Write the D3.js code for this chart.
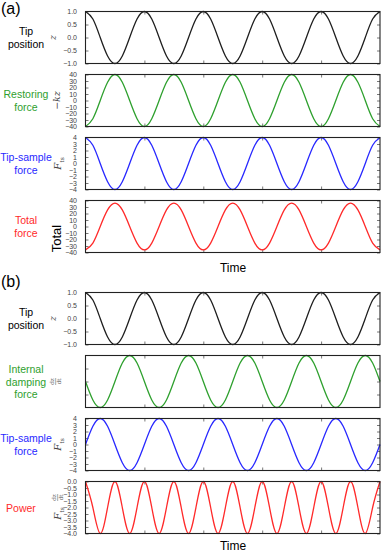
<!DOCTYPE html>
<html>
<head>
<meta charset="utf-8">
<script src="https://cdn.jsdelivr.net/npm/d3@7"></script>
<style>
body { margin: 0; background: #fff; }
svg { display: block; font-family: "Liberation Sans", Arial, sans-serif; }
</style>
</head>
<body>
<svg id="chart" width="382" height="554"></svg>
<script>
// time in units of oscillation periods, sampled every 1/8 period
var timeSteps = d3.range(0, 41).map(function (i) { return i / 8; });
var timeTicks = [1, 2, 3, 4];

// (a)
var tipPosition = [1, .71, 0, -.71, -1, -.71, 0, .71, 1, .71, 0, -.71, -1, -.71, 0, .71, 1, .71, 0, -.71, -1, -.71, 0, .71,
    1, .71, 0, -.71, -1, -.71, 0, .71, 1, .71, 0, -.71, -1, -.71, 0, .71, 1];
var restoringForce = [-40, -28, 0, 28, 40, 28, 0, -28, -40, -28, 0, 28, 40, 28, 0, -28, -40, -28, 0, 28, 40, 28, 0, -28,
    -40, -28, 0, 28, 40, 28, 0, -28, -40, -28, 0, 28, 40, 28, 0, -28, -40];
var tipSampleForceA = [4, 2.8, 0, -2.8, -4, -2.8, 0, 2.8, 4, 2.8, 0, -2.8, -4, -2.8, 0, 2.8, 4, 2.8, 0, -2.8, -4, -2.8, 0, 2.8,
    4, 2.8, 0, -2.8, -4, -2.8, 0, 2.8, 4, 2.8, 0, -2.8, -4, -2.8, 0, 2.8, 4];
var totalForce = [-36, -25.5, 0, 25.5, 36, 25.5, 0, -25.5, -36, -25.5, 0, 25.5, 36, 25.5, 0, -25.5, -36, -25.5, 0, 25.5, 36, 25.5, 0, -25.5,
    -36, -25.5, 0, 25.5, 36, 25.5, 0, -25.5, -36, -25.5, 0, 25.5, 36, 25.5, 0, -25.5, -36];

// (b)
var dampingForce = [0, -.71, -1, -.71, 0, .71, 1, .71, 0, -.71, -1, -.71, 0, .71, 1, .71, 0, -.71, -1, -.71, 0, .71, 1, .71,
    0, -.71, -1, -.71, 0, .71, 1, .71, 0, -.71, -1, -.71, 0, .71, 1, .71, 0];
var tipSampleForceB = [0, 2.8, 4, 2.8, 0, -2.8, -4, -2.8, 0, 2.8, 4, 2.8, 0, -2.8, -4, -2.8, 0, 2.8, 4, 2.8, 0, -2.8, -4, -2.8,
    0, 2.8, 4, 2.8, 0, -2.8, -4, -2.8, 0, 2.8, 4, 2.8, 0, -2.8, -4, -2.8, 0];
var power = [0, -2, -4, -2, 0, -2, -4, -2, 0, -2, -4, -2, 0, -2, -4, -2, 0, -2, -4, -2, 0, -2, -4, -2,
    0, -2, -4, -2, 0, -2, -4, -2, 0, -2, -4, -2, 0, -2, -4, -2, 0];

var posTicks = [-1, -0.5, 0, 0.5, 1];
var bigTicks = [-40, -30, -20, -10, 0, 10, 20, 30, 40];
var smallTicks = [-4, -3, -2, -1, 0, 1, 2, 3, 4];
var dampTicks = [-0.5, 0, 0.5];
var powerTicks = [-4, -3.5, -3, -2.5, -2, -1.5, -1, -0.5, 0];

var BLACK = '#1e1e1e', GREEN = '#2ea02e', BLUE = '#2828ff', RED = '#ff2a2a';

var svg = d3.select('#chart');
var left = 85.5, right = 380, ph = 52;
var x = d3.scaleLinear().domain([0, 5]).range([left, right]);

var panels = [
    {top: 11.5, vals: tipPosition, color: BLACK, dom: [-1, 1], ticks: posTicks, fmt: '.1f', name: ['Tip', 'position'], ncol: '#000', lab: 'z', lx: 55.5},
    {top: 74.5, vals: restoringForce, color: GREEN, dom: [-40, 40], ticks: bigTicks, fmt: 'd', name: ['Restoring', 'force'], ncol: GREEN, lab: 'kz', lx: 60},
    {top: 137.5, vals: tipSampleForceA, color: BLUE, dom: [-4, 4], ticks: smallTicks, fmt: 'd', name: ['Tip-sample', 'force'], ncol: BLUE, lab: 'fts', lx: 61},
    {top: 200.5, vals: totalForce, color: RED, dom: [-40, 40], ticks: bigTicks, fmt: 'd', name: ['Total', 'force'], ncol: RED, lab: 'total', lx: 60.5},
    {top: 292.5, vals: tipPosition, color: BLACK, dom: [-1, 1], ticks: posTicks, fmt: '.1f', name: ['Tip', 'position'], ncol: '#000', lab: 'z', lx: 55.5},
    {top: 355.5, vals: dampingForce, color: GREEN, dom: [-1, 1], ticks: dampTicks, fmt: null, name: ['Internal', 'damping', 'force'], ncol: GREEN, lab: 'dzdt', lx: 56},
    {top: 418.5, vals: tipSampleForceB, color: BLUE, dom: [-4, 4], ticks: smallTicks, fmt: 'd', name: ['Tip-sample', 'force'], ncol: BLUE, lab: 'fts', lx: 61},
    {top: 481.5, vals: power, color: RED, dom: [-4, 0], ticks: powerTicks, fmt: '.1f', name: ['Power'], ncol: RED, lab: 'power', lx: 61, nx: 21}
];

function styleAxis(g) {
    g.select('.domain').remove();
    g.selectAll('.tick line').attr('stroke', '#555').attr('stroke-width', 0.8);
    g.selectAll('.tick text').attr('fill', '#444').attr('font-size', 7)
        .attr('font-family', '"Liberation Sans", Arial, sans-serif');
}

function fts(t, size) {
    t.append('tspan').attr('font-style', 'italic').attr('font-family', '"DejaVu Serif", serif')
        .attr('font-size', size).text('F');
    t.append('tspan').attr('font-family', '"DejaVu Serif", serif').attr('font-size', size * 0.6)
        .attr('dy', size * 0.3).text('ts');
}

function frac(g, cx) {
    var f = g.append('g').attr('transform', 'translate(' + cx + ',0)').attr('fill', '#555');
    f.append('text').attr('x', 0).attr('y', -1.8).attr('text-anchor', 'middle')
        .attr('font-size', 5.5).attr('font-family', '"DejaVu Serif", serif').text('dz');
    f.append('line').attr('x1', -3.5).attr('x2', 3.5).attr('y1', -0.3).attr('y2', -0.3)
        .attr('stroke', '#555').attr('stroke-width', 0.5);
    f.append('text').attr('x', 0).attr('y', 4.8).attr('text-anchor', 'middle')
        .attr('font-size', 5.5).attr('font-family', '"DejaVu Serif", serif').text('dt');
}

panels.forEach(function (p) {
    var y = d3.scaleLinear().domain(p.dom).range([p.top + ph, p.top]);
    var g = svg.append('g');
    var cy = p.top + ph / 2;

    var ax = d3.axisLeft(y).tickValues(p.ticks).tickSize(-3).tickPadding(8.5);
    if (p.fmt) ax.tickFormat(d3.format(p.fmt)); else ax.tickFormat('');
    g.append('g').attr('transform', 'translate(' + left + ',0)').call(ax).call(styleAxis);
    g.append('g').attr('transform', 'translate(' + right + ',0)')
        .call(d3.axisRight(y).tickValues(p.ticks).tickSize(-3).tickFormat('')).call(styleAxis);
    g.append('g').attr('transform', 'translate(0,' + (p.top + ph) + ')')
        .call(d3.axisBottom(x).tickValues(timeTicks).tickSize(-3).tickFormat('')).call(styleAxis);
    g.append('g').attr('transform', 'translate(0,' + p.top + ')')
        .call(d3.axisTop(x).tickValues(timeTicks).tickSize(-3).tickFormat('')).call(styleAxis);

    var line = d3.line()
        .x(function (d, i) { return x(timeSteps[i]); })
        .y(function (d) { return y(d); })
        .curve(d3.curveNatural);
    g.append('path').datum(p.vals).attr('d', line)
        .attr('fill', 'none').attr('stroke', p.color).attr('stroke-width', 1.3);

    g.append('rect').attr('x', left).attr('y', p.top).attr('width', right - left).attr('height', ph)
        .attr('fill', 'none').attr('stroke', '#222').attr('stroke-width', 1.1);

    // row name
    var n = p.name.length;
    var nt = g.append('text').attr('text-anchor', 'middle').attr('font-size', 10.5).attr('fill', p.ncol);
    p.name.forEach(function (s, i) {
        nt.append('tspan').attr('x', p.nx || 26).attr('y', cy + 4 + (i - (n - 1) / 2) * 12.5).text(s);
    });

    // axis label, rotated
    var lg = g.append('g').attr('transform', 'translate(' + p.lx + ',' + cy + ') rotate(-90)');
    if (p.lab === 'z') {
        lg.append('text').attr('text-anchor', 'middle').attr('font-style', 'italic')
            .attr('font-family', '"DejaVu Serif", serif').attr('font-size', 9).attr('fill', '#555').text('z');
    } else if (p.lab === 'kz') {
        var t = lg.append('text').attr('text-anchor', 'middle').attr('font-family', '"DejaVu Serif", serif')
            .attr('font-size', 9.5).attr('fill', '#444');
        t.append('tspan').text('\u2212');
        t.append('tspan').attr('font-style', 'italic').text('kz');
    } else if (p.lab === 'fts') {
        var t2 = lg.append('text').attr('text-anchor', 'middle').attr('fill', '#444');
        fts(t2, 10);
    } else if (p.lab === 'total') {
        lg.append('text').attr('x', -12).attr('text-anchor', 'middle').attr('font-size', 13)
            .attr('fill', '#000').text('Total');
    } else if (p.lab === 'dzdt') {
        frac(lg, 0);
    } else if (p.lab === 'power') {
        var t3 = lg.append('text').attr('x', -4).attr('text-anchor', 'middle').attr('fill', '#444');
        fts(t3, 10);
        lg.attr('transform', 'translate(' + p.lx + ',' + (cy + 2) + ') rotate(-90)');
        var fg = lg.append('g').attr('transform', 'translate(0,-3)');
        frac(fg, 12);
    }
});

svg.append('text').attr('x', 1).attr('y', 14).attr('font-size', 16).text('(a)');
svg.append('text').attr('x', 1).attr('y', 286.5).attr('font-size', 16).text('(b)');
svg.append('text').attr('x', 233).attr('y', 272).attr('text-anchor', 'middle').attr('font-size', 12).text('Time');
svg.append('text').attr('x', 233).attr('y', 550).attr('text-anchor', 'middle').attr('font-size', 12).text('Time');
</script>
</body>
</html>
